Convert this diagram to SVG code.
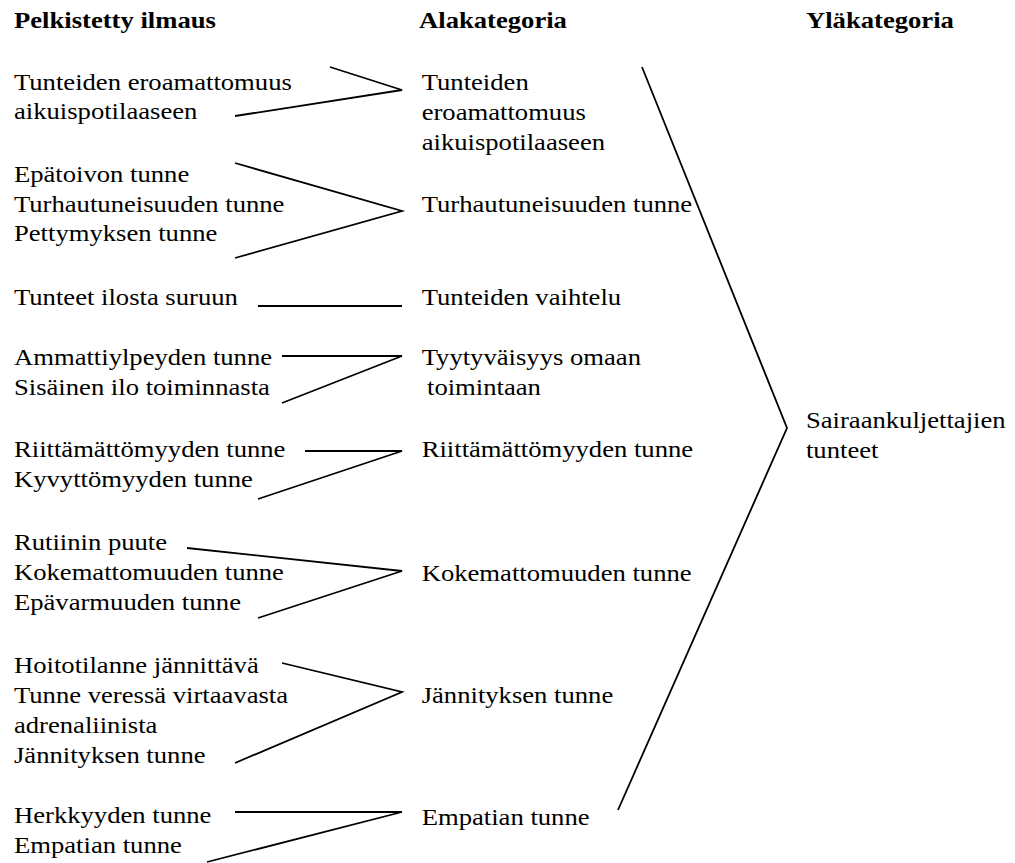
<svg xmlns="http://www.w3.org/2000/svg" width="1015" height="863" viewBox="0 0 1015 863">
<style>
.t{font-family:"Liberation Serif","Times New Roman",serif;font-size:24px;fill:#000}
.h{font-weight:bold}
.c{fill:none;stroke:#000;stroke-width:1.8;stroke-linejoin:miter}
</style>
<rect width="1015" height="863" fill="#fff"/>
<g id="connectors">
<polyline class="c" points="330,67 402,90 235,116"/>
<polyline class="c" points="235,163 402,211 235,258"/>
<polyline class="c" points="258,306 402,306"/>
<polyline class="c" points="282,356 402,356 282,403"/>
<polyline class="c" points="305,451 402,451 258,499"/>
<polyline class="c" points="187,548 402,571 258,618"/>
<polyline class="c" points="282,663 402,692 235,763"/>
<polyline class="c" points="235,812 402,812 207,862"/>
<polyline class="c" points="642,67 787,428 618,810"/>
</g>
<g transform="scale(1.11 1)">
<g id="headers">
<text class="t h" x="12.6" y="28">Pelkistetty ilmaus</text>
<text class="t h" x="377.5" y="28">Alakategoria</text>
<text class="t h" x="726.1" y="28">Yläkategoria</text>
</g>
<g id="p1"><text class="t" x="12.6" y="90">Tunteiden eroamattomuus</text><text class="t" x="12.6" y="119">aikuispotilaaseen</text></g>
<g id="p2"><text class="t" x="12.6" y="182">Epätoivon tunne</text><text class="t" x="12.6" y="212">Turhautuneisuuden tunne</text><text class="t" x="12.6" y="241">Pettymyksen tunne</text></g>
<g id="p3"><text class="t" x="12.6" y="305">Tunteet ilosta suruun</text></g>
<g id="p4"><text class="t" x="12.6" y="365">Ammattiylpeyden tunne</text><text class="t" x="12.6" y="395">Sisäinen ilo toiminnasta</text></g>
<g id="p5"><text class="t" x="12.6" y="457">Riittämättömyyden tunne</text><text class="t" x="12.6" y="487">Kyvyttömyyden tunne</text></g>
<g id="p6"><text class="t" x="12.6" y="550">Rutiinin puute</text><text class="t" x="12.6" y="580">Kokemattomuuden tunne</text><text class="t" x="12.6" y="610">Epävarmuuden tunne</text></g>
<g id="p7"><text class="t" x="12.6" y="673">Hoitotilanne jännittävä</text><text class="t" x="12.6" y="703">Tunne veressä virtaavasta</text><text class="t" x="12.6" y="733">adrenaliinista</text><text class="t" x="12.6" y="763">Jännityksen tunne</text></g>
<g id="p8"><text class="t" x="12.6" y="823">Herkkyyden tunne</text><text class="t" x="12.6" y="853">Empatian tunne</text></g>
<g id="a1"><text class="t" x="379.9" y="90">Tunteiden</text><text class="t" x="379.9" y="120">eroamattomuus</text><text class="t" x="379.9" y="150">aikuispotilaaseen</text></g>
<g id="a2"><text class="t" x="379.9" y="212">Turhautuneisuuden tunne</text></g>
<g id="a3"><text class="t" x="379.9" y="305">Tunteiden vaihtelu</text></g>
<g id="a4"><text class="t" x="379.9" y="365">Tyytyväisyys omaan</text><text class="t" x="384.7" y="395">toimintaan</text></g>
<g id="a5"><text class="t" x="379.9" y="457">Riittämättömyyden tunne</text></g>
<g id="a6"><text class="t" x="379.9" y="581">Kokemattomuuden tunne</text></g>
<g id="a7"><text class="t" x="379.9" y="703">Jännityksen tunne</text></g>
<g id="a8"><text class="t" x="379.9" y="825">Empatian tunne</text></g>
<g id="y1"><text class="t" x="726.1" y="428">Sairaankuljettajien</text><text class="t" x="726.1" y="458">tunteet</text></g>
</g>
</svg>
